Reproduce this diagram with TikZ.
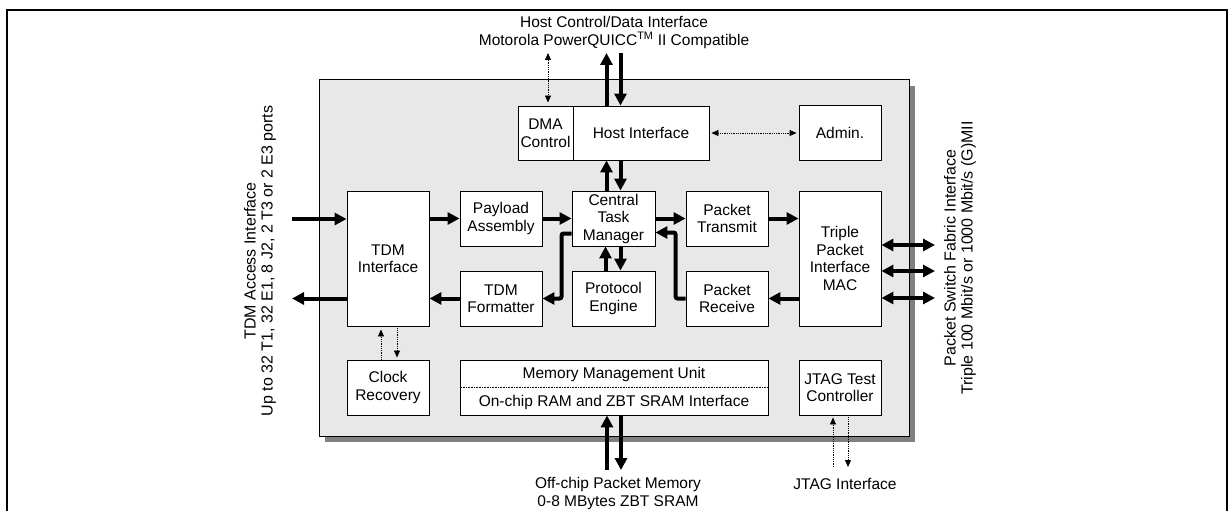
\documentclass[tikz,border=0pt]{standalone}
\usepackage{fontspec}
\setmainfont{Liberation Sans}
\usetikzlibrary{arrows.meta}
\begin{document}
\begin{tikzpicture}[x=1pt,y=-1pt,
  blk/.style={draw, fill=white, line width=0.9pt, inner sep=0pt, align=center,
    font=\fontsize{15.5}{17.5}\selectfont},
  lbl/.style={inner sep=0pt, align=center, font=\fontsize{15.5}{18}\selectfont},
  sidelbl/.style={inner sep=0pt, align=center, rotate=90, font=\fontsize{16}{17}\selectfont},
  big/.style={line width=4pt, -{Triangle[length=12pt,width=12pt]}},
  bigboth/.style={line width=4pt, {Triangle[length=12pt,width=12pt]}-{Triangle[length=12pt,width=12pt]}},
  dotarr/.style={densely dotted, line width=0.8pt, -{Triangle[length=7pt,width=6pt]}},
  dotboth/.style={densely dotted, line width=0.8pt, {Triangle[length=7pt,width=6pt]}-{Triangle[length=7pt,width=6pt]}}
]
\useasboundingbox (0,0) rectangle (1229,511);
% outer frame
\draw[line width=2pt] (7,511) -- (7,10) -- (1227,10) -- (1227,511);
% chip with shadow
\fill[black!50] (325,86) rectangle (915,442);
\draw[fill=black!9, line width=1pt] (319,80) rectangle (909,436);

% blocks
\node[blk, minimum width=55pt, minimum height=54pt] (dma) at (545.5,133) {DMA\\Control};
\node[blk, minimum width=136pt, minimum height=54pt] (host) at (641,133) {Host Interface};
\node[blk, minimum width=82pt, minimum height=55pt] (admin) at (840,133) {Admin.};
\node[blk, minimum width=82pt, minimum height=135pt] (tdm) at (388,258.5) {TDM\\Interface};
\node[blk, minimum width=82pt, minimum height=55pt] (payload) at (501,218.5) {Payload\\Assembly};
\node[blk, minimum width=83pt, minimum height=55pt] (ctm) at (613.5,218.5) {Central\\Task\\Manager};
\node[blk, minimum width=82pt, minimum height=55pt] (ptx) at (727,218.5) {Packet\\Transmit};
\node[blk, minimum width=82pt, minimum height=135pt] (mac) at (840,258.5) {Triple\\Packet\\Interface\\MAC};
\node[blk, minimum width=82pt, minimum height=55pt] (fmt) at (501,298.5) {TDM\\Formatter};
\node[blk, minimum width=83pt, minimum height=55pt] (pe) at (613.5,298.5) {Protocol\\Engine};
\node[blk, minimum width=82pt, minimum height=55pt] (prx) at (727,298.5) {Packet\\Receive};
\node[blk, minimum width=82pt, minimum height=55pt] (clk) at (388,387.5) {Clock\\Recovery};
\node[blk, minimum width=308pt, minimum height=55pt] (mmu) at (614,387.5) {};
\node[blk, minimum width=82pt, minimum height=55pt] (jtag) at (840,387.5) {JTAG Test\\Controller};
\draw[densely dotted, line width=0.6pt] (mmu.west) -- (mmu.east);
\node[lbl] (mmu1) at (614,374) {Memory Management Unit};
\node[lbl] (mmu2) at (614,402) {On-chip RAM and ZBT SRAM Interface};

% outside labels
\node[lbl] (hostlbl) at (614,32) {Host Control/Data Interface\\Motorola PowerQUICC\textsuperscript{TM} II Compatible};
\node[lbl] (memlbl) at (618,493) {Off-chip Packet Memory\\0-8 MBytes ZBT SRAM};
\node[lbl] (jtaglbl) at (845,484) {JTAG Interface};
\node[sidelbl] (tdmlbl) at (260,261) {TDM Access Interface\\Up to 32 T1, 32 E1, 8 J2, 2 T3 or 2 E3 ports};
\node[sidelbl] (psflbl) at (960,258) {Packet Switch Fabric Interface\\Triple 100 Mbit/s or 1000 Mbit/s (G)MII};

% free ends
\coordinate (hostUp) at (606.5,53);
\coordinate (hostDn) at (620.5,53);
\coordinate (dmaTop) at (548,53);
\coordinate (tdmIn) at (292,219);
\coordinate (tdmOut) at (292,298.5);
\coordinate (mac1) at (935,245);
\coordinate (mac2) at (935,271);
\coordinate (mac3) at (935,298);
\coordinate (memUp) at (607,470);
\coordinate (memDn) at (621,470);
\coordinate (jtUp) at (833,467);
\coordinate (jtDn) at (848,467);

% thick connectors
\draw[big] ([xshift=-7pt]ctm.north |- host.north) -- (hostUp);
\draw[big] (hostDn) -- (hostDn |- host.north);
\draw[big] ([xshift=-7pt]ctm.north) -- ([xshift=-7pt]ctm.north |- host.south);
\draw[big] ([xshift=7pt]ctm.north |- host.south) -- ([xshift=7pt]ctm.north);
\draw[big] ([xshift=-8pt]pe.north) -- ([xshift=-8pt]pe.north |- ctm.south);
\draw[big] ([xshift=7pt]pe.north |- ctm.south) -- ([xshift=7pt]pe.north);
\draw[big] (tdmIn) -- (tdmIn -| tdm.west);
\draw[big] (tdmOut -| tdm.west) -- (tdmOut);
\draw[big] (tdm.east |- payload.west) -- (payload.west);
\draw[big] (payload.east) -- (ctm.west);
\draw[big] (ctm.east) -- (ptx.west);
\draw[big] (ptx.east) -- (ptx.east -| mac.west);
\draw[big] (prx.east -| mac.west) -- (prx.east);
\draw[big] (fmt.west) -- (fmt.west -| tdm.east);
\draw[big, rounded corners=2pt] ([yshift=-15pt]ctm.west) -- ++(-10,0) |- (fmt.east);
\draw[big, rounded corners=2pt] (prx.west) -- ++(-10,0) |- ([yshift=-14pt]ctm.east);
\draw[bigboth] (mac1 -| mac.east) -- (mac1);
\draw[bigboth] (mac2 -| mac.east) -- (mac2);
\draw[bigboth] (mac3 -| mac.east) -- (mac3);
\draw[big] (memUp) -- (memUp |- mmu.south);
\draw[big] (memDn |- mmu.south) -- (memDn);

% dotted connectors
\draw[dotboth] (dmaTop) -- ([yshift=3pt]dmaTop |- dma.north);
\draw[dotboth] ([xshift=2pt]host.east) -- ([xshift=-2pt]admin.west);
\draw[dotarr] ([xshift=-7pt]clk.north) -- ([xshift=-7pt,yshift=-3pt]clk.north |- tdm.south);
\draw[dotarr] ([xshift=9pt]clk.north |- tdm.south) -- ([xshift=9pt,yshift=2pt]clk.north);
\draw[dotarr] (jtUp) -- ([yshift=-2pt]jtUp |- jtag.south);
\draw[dotarr] (jtDn |- jtag.south) -- (jtDn);
\end{tikzpicture}
\end{document}
